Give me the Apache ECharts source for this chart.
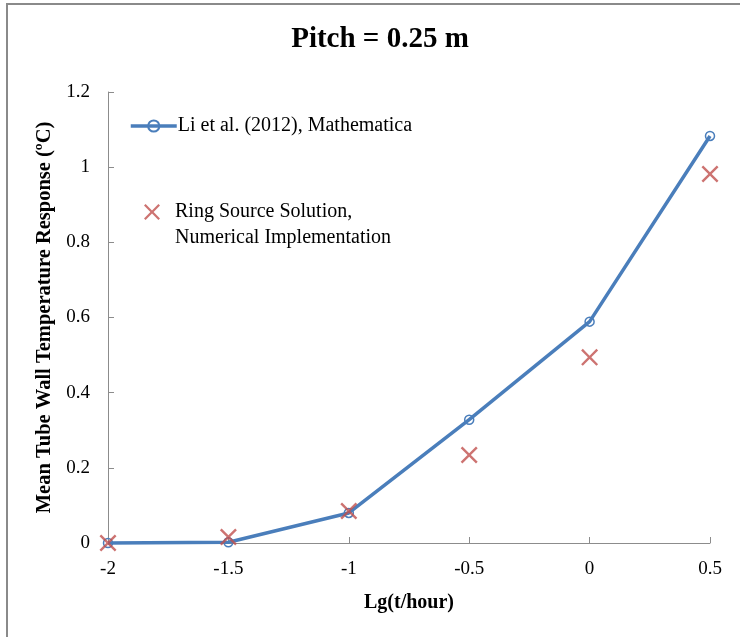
<!DOCTYPE html>
<html>
<head>
<meta charset="utf-8">
<script src="https://cdn.jsdelivr.net/npm/echarts@6/dist/echarts.min.js"></script>
<style>html,body{margin:0;padding:0;background:#fff;}#c{width:740px;height:637px;}</style>
</head>
<body>
<div id="c"></div>
<script>
const xValues = [-2, -1.5, -1, -0.5, 0, 0.5];
const liMathematica = [0, 0.002, 0.08, 0.328, 0.589, 1.083];
const ringSource = [0, 0.016, 0.085, 0.234, 0.494, 0.982];
const seriesNames = ['Li et al. (2012), Mathematica', 'Ring Source Solution, Numerical Implementation'];
const titleText = 'Pitch = 0.25 m';
const xTitle = 'Lg(t/hour)';
const yTitle = 'Mean Tube Wall Temperature Response (ºC)';

const font = '"Liberation Serif", "Times New Roman", serif';
const xShape = 'path://M2,0L10,8L18,0L20,2L12,10L20,18L18,20L10,12L2,20L0,18L8,10L0,2Z';

const chart = echarts.init(document.getElementById('c'));
chart.setOption({
  animation: false,
  backgroundColor: '#fff',
  graphic: [{
    type: 'rect', shape: {x: 7, y: 4, width: 800, height: 700},
    style: {fill: 'none', stroke: '#8a8a8a', lineWidth: 2}, silent: true, z: -1
  }, {
    type: 'text', left: 175, top: 228,
    style: {text: seriesNames[1].split(', ')[1], font: '20px ' + font, fill: '#000'}
  }],
  title: {
    text: titleText, left: 375, top: 20, textAlign: 'center',
    textStyle: {fontFamily: font, fontSize: 29, fontWeight: 'bold', color: '#000'}
  },
  grid: {left: 108, right: 30, top: 92, bottom: 94, containLabel: false},
  legend: [{
    data: [seriesNames[0]], left: 124, top: 111, itemWidth: 46, itemHeight: 14,
    lineStyle: {width: 3.5, color: '#4a7ebb'},
    textStyle: {fontFamily: font, fontSize: 20, color: '#000', padding: [0, 0, 0, -4]}
  }, {
    data: [seriesNames[1]], left: 139, top: 197, itemWidth: 16, itemHeight: 16, itemGap: 0,
    formatter: n => n.split(', ')[0] + ',',
    textStyle: {fontFamily: font, fontSize: 20, color: '#000', padding: [0, 0, 0, 10]}
  }],
  xAxis: {
    type: 'value', min: -2, max: 0.5, interval: 0.5,
    name: xTitle, nameLocation: 'middle', nameGap: 50,
    nameTextStyle: {fontFamily: font, fontSize: 20, fontWeight: 'bold', color: '#000'},
    axisLine: {onZero: false, lineStyle: {color: '#8c8c8c', width: 1}},
    axisTick: {inside: true, length: 6, lineStyle: {color: '#8c8c8c'}},
    axisLabel: {fontFamily: font, fontSize: 19, color: '#000', margin: 17},
    splitLine: {show: false}
  },
  yAxis: {
    type: 'value', min: 0, max: 1.2, interval: 0.2,
    name: yTitle, nameLocation: 'middle', nameGap: 52, nameRotate: 90,
    nameTextStyle: {fontFamily: font, fontSize: 20.5, fontWeight: 'bold', color: '#000'},
    axisLine: {show: true, onZero: false, lineStyle: {color: '#8c8c8c', width: 1}},
    axisTick: {show: true, inside: true, length: 6, lineStyle: {color: '#8c8c8c'}},
    axisLabel: {fontFamily: font, fontSize: 19, color: '#000', margin: 18},
    splitLine: {show: false}
  },
  series: [{
    name: seriesNames[0], type: 'line', clip: false,
    data: xValues.map((x, i) => [x, liMathematica[i]]),
    lineStyle: {color: '#4a7ebb', width: 3.5},
    symbol: 'circle', symbolSize: 9, showAllSymbol: true,
    itemStyle: {color: 'rgba(255,255,255,0)', borderColor: '#4a7ebb', borderWidth: 1.5},
    z: 2
  }, {
    name: seriesNames[1], type: 'scatter', clip: false,
    data: xValues.map((x, i) => [x, ringSource[i]]),
    symbol: xShape, symbolSize: 17,
    itemStyle: {color: '#c0504d'},
    z: 3
  }]
});
</script>
</body>
</html>
